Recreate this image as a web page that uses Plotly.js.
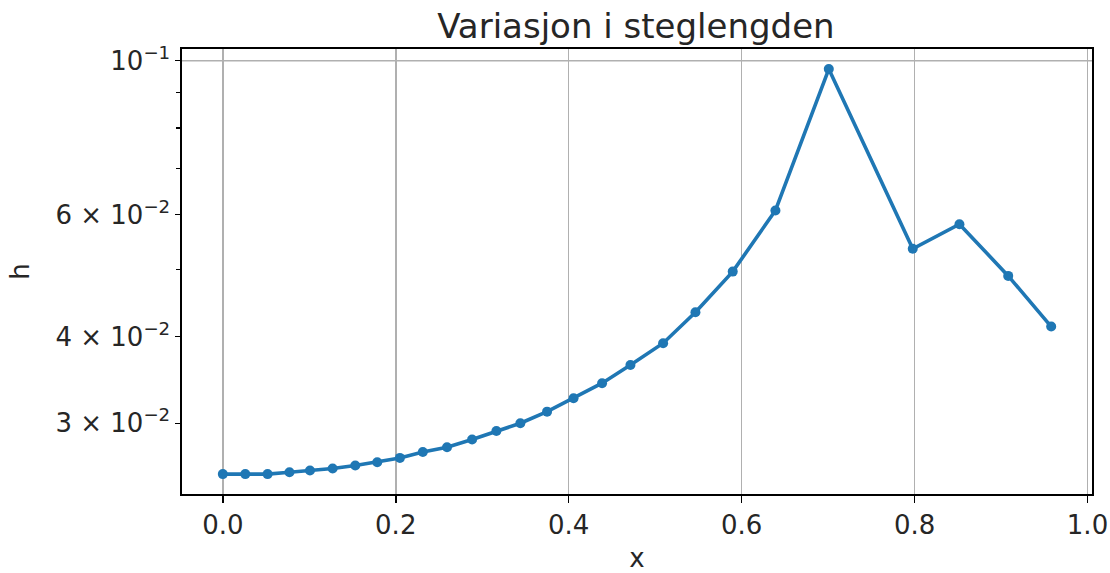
<!DOCTYPE html>
<html>
<head>
<meta charset="utf-8">
<script src="https://cdn.plot.ly/plotly-3.0.1.min.js"></script>
<style>html,body{margin:0;padding:0;background:#fff;}#chart{width:1110px;height:573px;}</style>
</head>
<body>
<div id="chart"></div>
<script>
// x positions of the steps
var xValues = [0.0000, 0.0260, 0.0518, 0.0771, 0.1008, 0.1270, 0.1532, 0.1786, 0.2048, 0.2313, 0.2593, 0.2883, 0.3164, 0.3441, 0.3750, 0.4056, 0.4386, 0.4714, 0.5092, 0.5466, 0.5897, 0.6391, 0.7008, 0.7979, 0.8519, 0.9083, 0.9580];
// step length h
var hValues = [0.02534, 0.02534, 0.02534, 0.02549, 0.02564, 0.02581, 0.02607, 0.02636, 0.02674, 0.02727, 0.02770, 0.02842, 0.02924, 0.03000, 0.03118, 0.03260, 0.03427, 0.03640, 0.03914, 0.04338, 0.04964, 0.06081, 0.09728, 0.05355, 0.05811, 0.04894, 0.04136];

var xTickVals = [0.0, 0.2, 0.4, 0.6, 0.8, 1.0];
var xTickText = ['0.0', '0.2', '0.4', '0.6', '0.8', '1.0'];
var yTickVals = [0.03, 0.04, 0.06, 0.1];
var yTickText = ['3 × 10<sup>−2</sup>', '4 × 10<sup>−2</sup>', '6 × 10<sup>−2</sup>', '10<sup>−1</sup>'];
var yMinorVals = [0.05, 0.07, 0.08, 0.09];
var yGridVals = [0.1];

var titleText = 'Variasjon i steglengden';
var xLabel = 'x';
var yLabel = 'h';

var font = 'DejaVu Sans, sans-serif';
var txt = '#262626';

var trace = {
  x: xValues,
  y: hValues,
  type: 'scatter',
  mode: 'lines+markers',
  line: {color: '#1f77b4', width: 3.6},
  marker: {color: '#1f77b4', size: 10},
  hoverinfo: 'x+y'
};

var shapes = yGridVals.map(function(v){
  return {type: 'line', xref: 'paper', yref: 'y', x0: 0, x1: 1, y0: v, y1: v,
          line: {color: '#b0b0b0', width: 1.5}, layer: 'below'};
});

var layout = {
  width: 1110,
  height: 573,
  margin: {l: 182, r: 18, t: 49, b: 79, pad: 0},
  paper_bgcolor: '#ffffff',
  plot_bgcolor: '#ffffff',
  showlegend: false,
  font: {family: font, color: txt, size: 26},
  title: {text: titleText, font: {family: font, size: 34, color: txt},
          x: 0.5729, xanchor: 'center', yref: 'container', y: 0.955, yanchor: 'middle'},
  xaxis: {
    range: [-0.0472, 1.0052],
    tickmode: 'array', tickvals: xTickVals, ticktext: xTickText,
    ticks: 'outside', ticklen: 7, tickwidth: 1.5, tickcolor: '#000',
    showgrid: true, gridcolor: '#b0b0b0', gridwidth: 1.5,
    zeroline: false,
    showline: true, linecolor: '#000', linewidth: 1.6, mirror: true,
    tickfont: {family: font, size: 26, color: txt},
    title: {text: xLabel, font: {family: font, size: 26, color: txt}, standoff: 12}
  },
  yaxis: {
    type: 'log',
    range: [-1.6249, -0.9831],
    tickmode: 'array', tickvals: yTickVals, ticktext: yTickText,
    ticks: 'outside', ticklen: 5, tickwidth: 1.3, tickcolor: '#000',
    showgrid: false,
    zeroline: false,
    showline: true, linecolor: '#000', linewidth: 1.6, mirror: true,
    tickfont: {family: font, size: 26, color: txt},
    minor: {tickmode: 'array', tickvals: yMinorVals, ticks: 'outside', ticklen: 4, tickwidth: 1.2, tickcolor: '#000', showgrid: false},
    title: {text: yLabel, font: {family: font, size: 26, color: txt}, standoff: 18}
  },
  shapes: shapes
};

Plotly.newPlot('chart', [trace], layout, {displayModeBar: false, staticPlot: true});
</script>
</body>
</html>
